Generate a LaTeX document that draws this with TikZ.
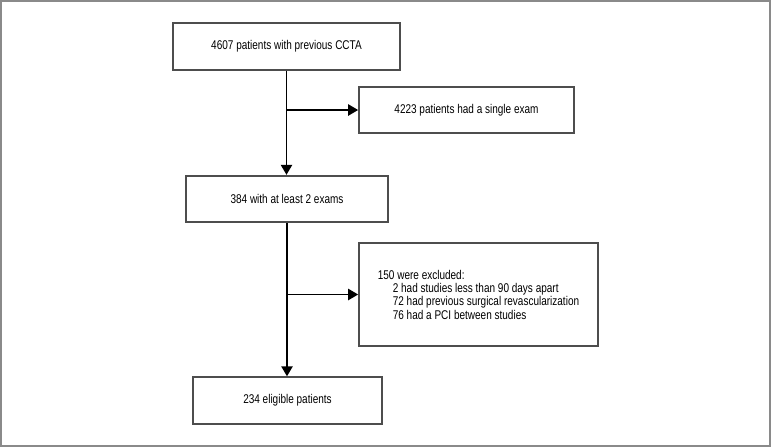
\documentclass[tikz,border=0pt]{standalone}
\usepackage{fontspec}
\setmainfont{Liberation Sans}[FakeStretch=0.79]
\usepackage{tikz}
\usetikzlibrary{arrows.meta}

\definecolor{boxgray}{RGB}{77,77,77}
\definecolor{framegray}{RGB}{138,138,138}

\tikzset{
  flowbox/.style={draw=boxgray, line width=1.3pt, minimum height=35pt, inner sep=0.75pt,
    font=\fontsize{9.5}{10}\selectfont},
  flowline/.style={line width=1.1pt, -{Triangle[length=7.5pt,width=8.5pt]}}
}

\begin{document}
\begin{tikzpicture}[x=0.75pt,y=0.75pt,yscale=-1,xscale=1]
		\useasboundingbox (0,0) rectangle (771,447);
		%Frame
		\draw [framegray, line width=1.1pt] (1,1) rectangle (770,446) ;

		% Text Node
		\node [flowbox, minimum width=170.25pt] (cohort) at (286.5,46.5) {4607 patients with previous CCTA};
		% Text Node
		\node [flowbox, minimum width=161.25pt] (single) at (466.5,110) {4223 patients had a single exam};
		% Text Node
		\node [flowbox, minimum width=151.5pt] (twoexams) at (287,199) {384 with at least 2 exams};
		% Text Node
		\node [flowbox, minimum width=179.25pt, minimum height=77.25pt, align=left] (excluded) at (478.5,294.5)
		  {150 were excluded:\\
		   \hspace*{11.25pt}2 had studies less than 90 days apart\\
		   \hspace*{11.25pt}72 had previous surgical revascularization\\
		   \hspace*{11.25pt}76 had a PCI between studies};
		% Text Node
		\node [flowbox, minimum width=141.75pt] (eligible) at (287.5,400.5) {234 eligible patients};

		%Straight Lines
		\draw [flowline] (cohort.south) -- (cohort.south |- twoexams.north) ;
		\draw [flowline] (cohort.south |- single.west) -- (single.west) ;
		\draw [flowline] (twoexams.south) -- (twoexams.south |- eligible.north) ;
		\draw [flowline] (twoexams.south |- excluded.west) -- (excluded.west) ;
\end{tikzpicture}
\end{document}
